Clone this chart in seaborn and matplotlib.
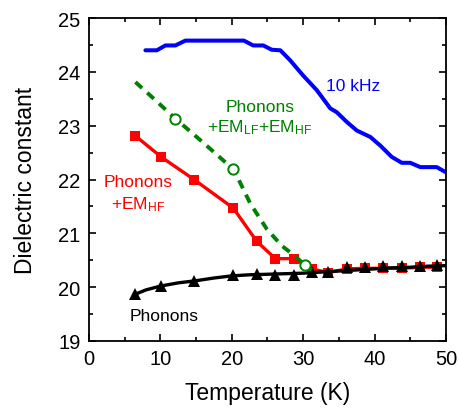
import matplotlib
matplotlib.use("Agg")
import matplotlib.pyplot as plt
import seaborn as sns
import pandas as pd
from matplotlib.ticker import MultipleLocator

# ---- data ----
blue_T = [7.9, 9.5, 10.7, 12.1, 13.5, 21.7, 23.0, 24.4, 25.6, 26.8, 28.2, 30.0, 31.9,
          33.8, 34.7, 36.1, 37.5, 39.4, 40.8, 42.4, 43.8, 45.0, 46.4, 48.7, 49.9]
blue_eps = [24.40, 24.40, 24.49, 24.49, 24.58, 24.58, 24.49, 24.49, 24.41, 24.40, 24.21,
            23.93, 23.66, 23.32, 23.25, 23.07, 22.91, 22.79, 22.63, 22.42, 22.31, 22.31,
            22.23, 22.23, 22.14]

sym_T = [6.5, 10.1, 14.7, 20.2, 23.5, 26.1, 28.7, 31.2, 33.5, 36.1, 38.7, 41.2, 43.8, 46.3, 48.7]
red_eps = [22.81, 22.42, 22.00, 21.47, 20.85, 20.53, 20.53, 20.34, 20.27, 20.34, 20.35,
           20.35, 20.35, 20.37, 20.37]
black_eps = [19.87, 20.02, 20.11, 20.23, 20.25, 20.22, 20.23, 20.29, 20.29, 20.37, 20.37,
             20.39, 20.39, 20.40, 20.41]

fit_T = [6.5, 8, 10, 12.5, 15, 17.5, 20, 22.5, 25, 27.5, 30, 32.5, 35, 37.5, 40, 42.5,
         45, 47.5, 50]
fit_eps = [19.87, 19.95, 20.02, 20.08, 20.12, 20.17, 20.21, 20.23, 20.24, 20.25, 20.26,
           20.28, 20.30, 20.32, 20.34, 20.36, 20.37, 20.39, 20.40]

green_T = [6.5, 9.0, 12.1, 15.0, 18.0, 20.2, 20.7, 22.6, 24.9, 27.0, 29.1, 30.2, 31.2]
green_eps = [23.81, 23.51, 23.13, 22.80, 22.45, 22.19, 22.07, 21.55, 21.08, 20.77, 20.55,
             20.41, 20.32]
circ_T = [12.1, 20.2, 30.2]
circ_eps = [23.13, 22.20, 20.41]

# ---- style ----
sns.set_theme(style="white")
plt.rcParams["font.family"] = ["Liberation Sans", "DejaVu Sans"]
plt.rcParams["mathtext.default"] = "regular"
for k in ["text.color", "axes.labelcolor", "xtick.color", "ytick.color", "axes.edgecolor"]:
    plt.rcParams[k] = "black"

fig = plt.figure(figsize=(4.6, 4.14), dpi=100)
ax = fig.add_axes([89 / 460, 1 - 342 / 414, (446 - 89) / 460, (342 - 19) / 414])

BLUE, RED, GREEN = "#0000ff", "#ff0000", "#008000"

sns.lineplot(x=blue_T, y=blue_eps, ax=ax, color=BLUE, linewidth=2.9, sort=False)
sns.lineplot(x=sym_T, y=red_eps, ax=ax, color=RED, linewidth=2.4, marker="s",
             markersize=7.5, markeredgecolor=RED, markeredgewidth=0, sort=False)
sns.lineplot(x=fit_T, y=fit_eps, ax=ax, color="black", linewidth=2.4, sort=False)
sns.lineplot(x=sym_T, y=black_eps, ax=ax, color="black", linestyle="none", marker="^",
             markersize=9, markeredgecolor="black", markeredgewidth=0, sort=False)
sns.lineplot(x=green_T, y=green_eps, ax=ax, color=GREEN, linewidth=2.8,
             dashes=False, sort=False).lines[-1].set_dashes((2.3, 1.8))
sns.scatterplot(x=circ_T, y=circ_eps, ax=ax, s=55, facecolor="white",
                edgecolor=GREEN, linewidth=1.4, zorder=5)

# ---- axes ----
ax.set_xlim(0, 50)
ax.set_ylim(19, 25)
ax.xaxis.set_major_locator(MultipleLocator(10))
ax.xaxis.set_minor_locator(MultipleLocator(5))
ax.yaxis.set_major_locator(MultipleLocator(1))
ax.yaxis.set_minor_locator(MultipleLocator(0.5))
ax.tick_params(which="both", direction="in", top=True, right=True, bottom=True, left=True,
               width=1.2, color="black", labelcolor="black", labelsize=14.5, pad=6)
ax.tick_params(which="major", length=5)
ax.tick_params(which="minor", length=3)
for s in ax.spines.values():
    s.set_linewidth(1.3)
    s.set_color("black")
ax.set_xlabel("Temperature (K)", fontsize=16.5, labelpad=9, color="black")
ax.set_ylabel("Dielectric constant", fontsize=16.5, labelpad=15, color="black")

# ---- annotations ----
fs = 12.5
ax.text(37.0, 23.67, "10 kHz", color=BLUE, fontsize=fs, ha="center", va="baseline")
ax.text(23.9, 23.27, "Phonons", color=GREEN, fontsize=fs, ha="center", va="baseline")
ax.text(23.9, 22.89, "+EM$_{LF}$+EM$_{HF}$", color=GREEN, fontsize=fs, ha="center",
        va="baseline")
ax.text(6.85, 21.88, "Phonons", color=RED, fontsize=fs, ha="center", va="baseline")
ax.text(6.8, 21.47, "+EM$_{HF}$", color=RED, fontsize=fs, ha="center", va="baseline")
ax.text(10.5, 19.39, "Phonons", color="black", fontsize=fs, ha="center", va="baseline")

fig.savefig("out.png", dpi=100)
